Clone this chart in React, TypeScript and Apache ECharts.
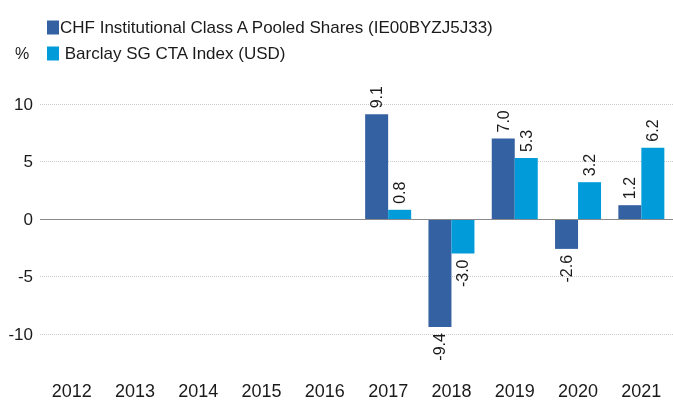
import React, { useEffect, useRef } from "react";
import * as echarts from "echarts";

const years = ["2012", "2013", "2014", "2015", "2016", "2017", "2018", "2019", "2020", "2021"];
const chfValues: (number | null)[] = [null, null, null, null, null, 9.1, -9.4, 7.0, -2.6, 1.2];
const barclayValues: (number | null)[] = [null, null, null, null, null, 0.8, -3.0, 5.3, 3.2, 6.2];
const seriesNames = ["CHF Institutional Class A Pooled Shares (IE00BYZJ5J33)", "Barclay SG CTA Index (USD)"];
const yTicks = { min: -10, max: 10, interval: 5 };

const FONT = "'Liberation Sans', Arial, sans-serif";

function buildData(values: (number | null)[]) {
  return values.map((v) => {
    if (v === null) return null;
    const neg = v < 0;
    return {
      value: v,
      label: {
        show: true,
        position: neg ? "bottom" : "top",
        rotate: 90,
        align: neg ? "right" : "left",
        verticalAlign: "middle",
        distance: 6,
        formatter: (p: any) => Number(p.value).toFixed(1),
        fontSize: 16,
        fontFamily: FONT,
        color: "#1a1a1a",
      },
    };
  });
}

export default function App() {
  const ref = useRef<HTMLDivElement>(null);
  useEffect(() => {
    if (!ref.current) return;
    const chart = echarts.init(ref.current, undefined, { renderer: "svg" });
    chart.setOption({
      animation: false,
      textStyle: { fontFamily: FONT },
      legend: {
        orient: "vertical",
        left: 42,
        top: 14,
        itemWidth: 12,
        itemHeight: 14,
        itemGap: 9,
        icon: "rect",
        data: seriesNames,
        formatter: (name: string) => (name === seriesNames[1] ? " " + name : name),
        textStyle: { fontSize: 17, fontFamily: FONT, color: "#1a1a1a", padding: [0, 0, 0, -4] },
      },
      graphic: [
        {
          type: "text",
          left: 15,
          top: 45,
          style: { text: "%", fontSize: 16, fontFamily: FONT, fill: "#1a1a1a" },
        },
      ],
      grid: { left: 40, right: 0, top: 104, bottom: 67, outerBoundsMode: "none", containLabel: false },
      xAxis: {
        type: "category",
        data: years,
        axisLine: { show: false, onZero: false },
        axisTick: { show: false },
        axisLabel: { margin: 48, fontSize: 18, lineHeight: 18, fontFamily: FONT, color: "#1a1a1a" },
      },
      yAxis: {
        type: "value",
        min: yTicks.min,
        max: yTicks.max,
        interval: yTicks.interval,
        axisLine: { show: false },
        axisTick: { show: false },
        axisLabel: { margin: 7, fontSize: 17, fontFamily: FONT, color: "#1a1a1a" },
        splitLine: { lineStyle: { type: "dotted", color: "#cccccc", width: 1 } },
      },
      series: [
        {
          name: seriesNames[0],
          type: "bar",
          data: buildData(chfValues),
          barWidth: 23,
          barGap: "0%",
          itemStyle: { color: "#3461a1" },
          markLine: {
            silent: true,
            symbol: "none",
            label: { show: false },
            lineStyle: { type: "solid", color: "#8a8a8a", width: 1 },
            data: [{ yAxis: 0 }],
          },
        },
        {
          name: seriesNames[1],
          type: "bar",
          data: buildData(barclayValues),
          barWidth: 23,
          barGap: "0%",
          itemStyle: { color: "#009bd8" },
        },
      ],
    });
    return () => chart.dispose();
  }, []);
  return <div ref={ref} style={{ position: "fixed", left: 0, top: 0, width: 673, height: 401 }} />;
}
